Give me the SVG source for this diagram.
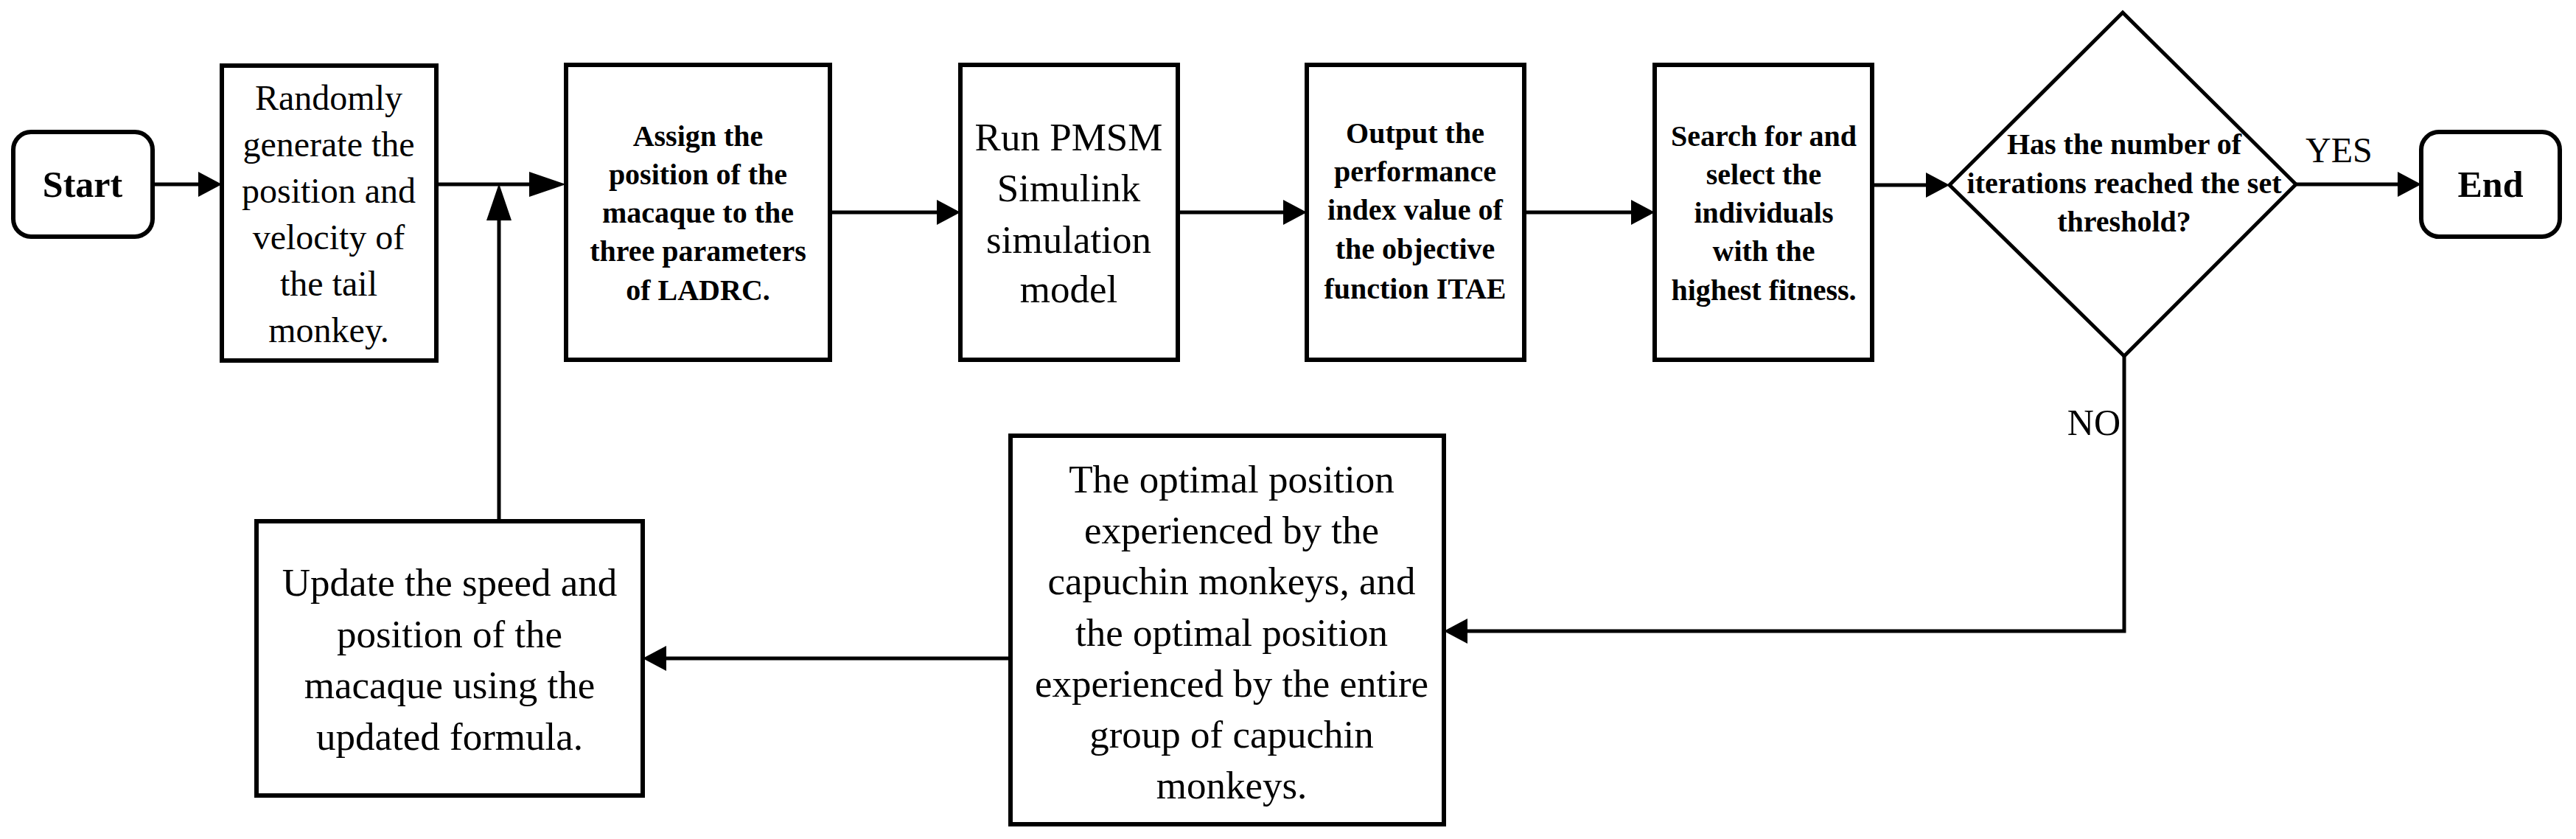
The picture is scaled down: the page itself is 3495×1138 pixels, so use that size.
<svg xmlns="http://www.w3.org/2000/svg" width="3495" height="1138" viewBox="0 0 3495 1138">
<style>
.box{fill:#fff;stroke:#000;stroke-width:6}
.term{fill:#fff;stroke:#000;stroke-width:6}
.con{fill:none;stroke:#000;stroke-width:5}
text{font-family:"Liberation Serif","Times New Roman",serif;fill:#000;text-anchor:middle}
.b40{font-size:40px;font-weight:bold}
.b50{font-size:50px;font-weight:bold}
.r48{font-size:48px}
.r53{font-size:53px}
</style>
<defs>
<marker id="ah" markerUnits="userSpaceOnUse" viewBox="0 0 32 34" refX="8" refY="17" markerWidth="32" markerHeight="34" orient="auto"><path d="M0,0 L32,17 L0,34 z" fill="#000"/></marker>
<marker id="ahl" markerUnits="userSpaceOnUse" viewBox="0 0 50 34" refX="8" refY="17" markerWidth="50" markerHeight="34" orient="auto"><path d="M0,0 L50,17 L0,34 z" fill="#000"/></marker>
</defs>
<rect width="3495" height="1138" fill="#fff"/>
<g id="connectors">
<path class="con" d="M207,250 H277" marker-end="url(#ah)"/>
<path class="con" d="M592,250 H726" marker-end="url(#ahl)"/>
<path class="con" d="M1126,288 H1279" marker-end="url(#ah)"/>
<path class="con" d="M1598,288 H1749" marker-end="url(#ah)"/>
<path class="con" d="M2068,288 H2221" marker-end="url(#ah)"/>
<path class="con" d="M2540,251 H2621" marker-end="url(#ah)"/>
<path class="con" d="M3115,250 H3261" marker-end="url(#ah)"/>
<path class="con" d="M2882,483 V856 H1983" marker-end="url(#ah)"/>
<path class="con" d="M1371,893 H896" marker-end="url(#ah)"/>
<path class="con" d="M677,707 V291" marker-end="url(#ahl)"/>
<text class="r48" x="3128" y="220" style="text-anchor:start">YES</text>
<text class="r48" x="2877" y="590" style="text-anchor:end;font-size:50px">NO</text>
</g>
<g id="start">
<rect class="term" x="18" y="179" width="189" height="142" rx="24"/>
<text class="b50" x="112" y="267">Start</text>
</g>
<g id="init">
<rect class="box" x="301" y="89" width="291" height="400"/>
<text class="r48" x="446"><tspan x="446" y="149">Randomly</tspan><tspan x="446" y="212">generate the</tspan><tspan x="446" y="275">position and</tspan><tspan x="446" y="338">velocity of</tspan><tspan x="446" y="401">the tail</tspan><tspan x="446" y="464">monkey.</tspan></text>
</g>
<g id="assign">
<rect class="box" x="768" y="88" width="358" height="400"/>
<text class="b40"><tspan x="947" y="198">Assign the</tspan><tspan x="947" y="250">position of the</tspan><tspan x="947" y="302">macaque to the</tspan><tspan x="947" y="354">three parameters</tspan><tspan x="947" y="407">of LADRC.</tspan></text>
</g>
<g id="run">
<rect class="box" x="1303" y="88" width="295" height="400"/>
<text class="r53"><tspan x="1450" y="204">Run PMSM</tspan><tspan x="1450" y="273">Simulink</tspan><tspan x="1450" y="343">simulation</tspan><tspan x="1450" y="410">model</tspan></text>
</g>
<g id="output">
<rect class="box" x="1773" y="88" width="295" height="400"/>
<text class="b40"><tspan x="1920" y="194">Output the</tspan><tspan x="1920" y="246">performance</tspan><tspan x="1920" y="298">index value of</tspan><tspan x="1920" y="351">the objective</tspan><tspan x="1920" y="405">function ITAE</tspan></text>
</g>
<g id="search">
<rect class="box" x="2245" y="88" width="295" height="400"/>
<text class="b40"><tspan x="2393" y="198">Search for and</tspan><tspan x="2393" y="250">select the</tspan><tspan x="2393" y="302">individuals</tspan><tspan x="2393" y="354">with the</tspan><tspan x="2393" y="407">highest fitness.</tspan></text>
</g>
<g id="decision">
<polygon points="2880,17 3115,250 2882,483 2645,251" fill="#fff" stroke="#000" stroke-width="5"/>
<text class="b40"><tspan x="2882" y="209">Has the number of</tspan><tspan x="2882" y="262">iterations reached the set</tspan><tspan x="2882" y="314">threshold?</tspan></text>
</g>
<g id="end">
<rect class="term" x="3285" y="179" width="188" height="142" rx="24"/>
<text class="b50" x="3379" y="267">End</text>
</g>
<g id="best">
<rect class="box" x="1371" y="591" width="588" height="527"/>
<text class="r53"><tspan x="1671" y="668">The optimal position</tspan><tspan x="1671" y="737">experienced by the</tspan><tspan x="1671" y="806">capuchin monkeys, and</tspan><tspan x="1671" y="876">the optimal position</tspan><tspan x="1671" y="945">experienced by the entire</tspan><tspan x="1671" y="1014">group of capuchin</tspan><tspan x="1671" y="1083">monkeys.</tspan></text>
</g>
<g id="update">
<rect class="box" x="348" y="707" width="524" height="372"/>
<text class="r53"><tspan x="610" y="808">Update the speed and</tspan><tspan x="610" y="878">position of the</tspan><tspan x="610" y="947">macaque using the</tspan><tspan x="610" y="1017">updated formula.</tspan></text>
</g>
</svg>
